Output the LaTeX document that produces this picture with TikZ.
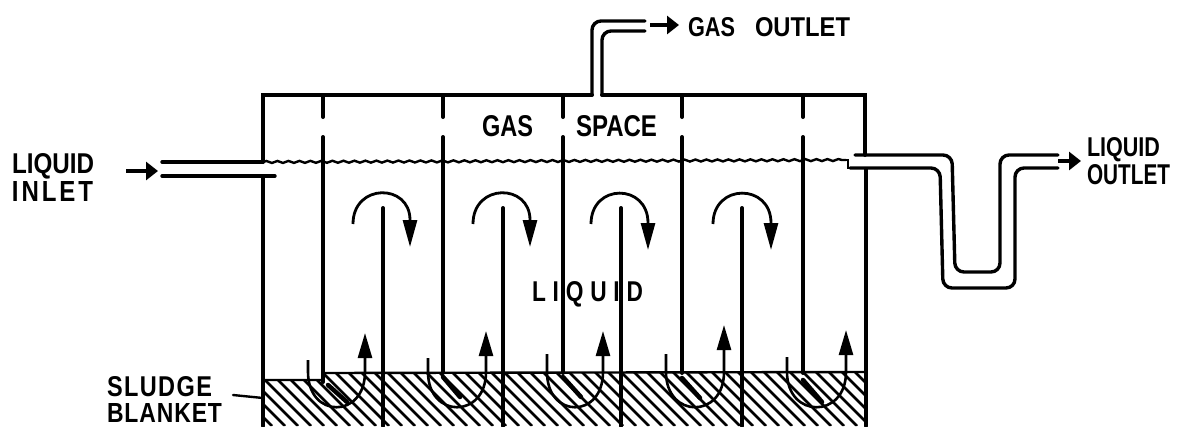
\documentclass[tikz,border=0pt]{standalone}
\usepackage{fontspec}
\setmainfont{Liberation Sans}
\usetikzlibrary{arrows.meta,decorations.pathmorphing}
\newcommand{\fitlab}[3]{\resizebox{#1pt}{#2pt}{#3}}
\tikzset{
  lab/.style={inner sep=0pt,outer sep=0pt,anchor=base west,font=\bfseries\fontsize{24}{24}\selectfont},
  wall/.style={line width=4pt,line cap=round},
  pipe/.style={line width=3.4pt,line cap=round,rounded corners=9pt},
  hatchline/.style={line width=2.8pt},
  flow/.style={line width=2.8pt,-{Triangle[length=27pt,width=14pt]}},
  upflow/.style={line width=2.6pt,-{Triangle[length=25pt,width=14pt]}},
  smallflow/.style={line width=3.6pt,-{Triangle[length=12pt,width=18pt]}},
  surface/.style={line width=2.4pt,decorate,decoration={snake,amplitude=1pt,segment length=11pt}},
  heavy/.style={line width=4.5pt,line cap=round}
}
\begin{document}
\begin{tikzpicture}[x=1pt,y=-1pt]
\useasboundingbox (0,0) rectangle (1177,426);
% sludge blanket
\begin{scope}
\clip (263,380) -- (323,380) -- (323,372) -- (866,372) -- (866,426) -- (263,426) -- cycle;
\foreach \h in {180,193,...,870}{
  \draw[hatchline] (\h,360) -- (\h+66,426);
}
\end{scope}
\draw[line width=2.4pt] (263,380) -- (323,380) -- (323,373) -- (866,372);
% liquid surface
\coordinate (wl) at (263,162);
\coordinate (wr) at (846,160);
\draw[surface] (wl) -- (wr);
% tank
\coordinate (tl) at (263,95); \coordinate (tr) at (865,95);
\coordinate (bl) at (263,426); \coordinate (br) at (866,426);
\coordinate (gl) at (592,95); \coordinate (gr) at (602,95);
\draw[wall] (263,162) -- (tl) -- (gl);
\draw[wall] (gr) -- (tr) -- (865,155);
\draw[wall] (263,177) -- (bl);
\draw[wall] (866,169) -- (br);
% baffles
\foreach \b/\e in {323/382,443/373,563/373,682/373,803/373}{
  \draw[wall] (\b,95) -- (\b,117);
  \draw[wall] (\b,137) -- (\b,\e);
}
% risers
\foreach \r in {383,503,621,742}{
  \draw[wall] (\r,208) -- (\r,426);
}
% top circulation arrows
\foreach \s/\e/\t in {353/410/247,473/530/247,591/648/250,713/771/250}{
  \draw[flow] (\s,224) .. controls (\s,183) and (\e,183) .. (\e,\t-27) -- (\e,\t);
}
% bottom circulation arrows
\foreach \s/\e/\t/\k in {308/365/333/360,428/486/331/358,547/603/331/354,666/724/325/354,787/846/330/357}{
  \draw[upflow] (\s,\k) -- (\s,372) .. controls (\s,419) and (\e,419) .. (\e,372) -- (\e,\t);
}
% heavy strokes in the blanket
\foreach \a/\c/\d/\f in {328/385/347/402,443/377/460/397,563/377/581/397,682/378/700/398,803/380/822/402}{
  \draw[heavy] (\a,\c) -- (\d,\f);
}
% inlet pipe
\coordinate (ia) at (162,162); \coordinate (ib) at (162,176);
\coordinate (ic) at (275,176);
\draw[line width=3.4pt,line cap=round] (ia) -- (wl);
\draw[line width=3.4pt,line cap=round] (ib) -- (ic);
\coordinate (ifa) at (126,171); \coordinate (ifb) at (158,171);
\draw[smallflow] (ifa) -- (ifb);
% gas pipe
\coordinate (goa) at (645,21); \coordinate (gob) at (645,31);
\draw[pipe] (gl) -- (592,21) -- (goa);
\draw[pipe] (gr) -- (602,31) -- (gob);
\coordinate (gfa) at (650,25); \coordinate (gfb) at (679,25);
\draw[smallflow] (gfa) -- (gfb);
% outlet pipe
\coordinate (oa) at (855,155); \coordinate (ob) at (1058,155);
\coordinate (oc) at (850,168); \coordinate (od) at (1058,168);
\draw[pipe] (oa) -- (952,155) -- (955,272) -- (1000,272) -- (1000,155) -- (ob);
\draw[pipe] (oc) -- (940,168) -- (943,288) -- (1015,288) -- (1015,168) -- (od);
\draw[line width=2.4pt] (wr) -- (848,160) -- (848,168) -- (oc);
\coordinate (ofa) at (1058,161); \coordinate (ofb) at (1081,161);
\draw[smallflow] (ofa) -- (ofb);
% leader
\coordinate (la) at (233,395); \coordinate (lb) at (263,398);
\draw[line width=2.4pt,line cap=round] (la) -- (lb);
% labels
\node[lab] (t1) at (12,173) {\fitlab{82}{20}{LIQUID}};
\node[lab] (t2) at (12,201) {\fitlab{81}{20}{\addfontfeature{LetterSpace=12}INLET}};
\node[lab] (t3) at (107,396) {\fitlab{105}{20}{\addfontfeature{LetterSpace=6}SLUDGE}};
\node[lab] (t4) at (107,422) {\fitlab{115}{19}{\addfontfeature{LetterSpace=4}BLANKET}};
\node[lab] (t5) at (688,36) {\fitlab{47}{19}{GAS}};
\node[lab] (t6) at (755,36) {\fitlab{95}{19}{OUTLET}};
\node[lab] (t7) at (482,136) {\fitlab{51}{21}{GAS}};
\node[lab] (t8) at (576,136) {\fitlab{81}{21}{SPACE}};
\node[lab] (t9) at (532,301) {\fitlab{111}{20}{\addfontfeature{LetterSpace=30}LIQUID}};
\node[lab] (t10) at (1087,156) {\fitlab{73}{19}{LIQUID}};
\node[lab] (t11) at (1087,184) {\fitlab{83}{20}{OUTLET}};
\end{tikzpicture}
\end{document}
